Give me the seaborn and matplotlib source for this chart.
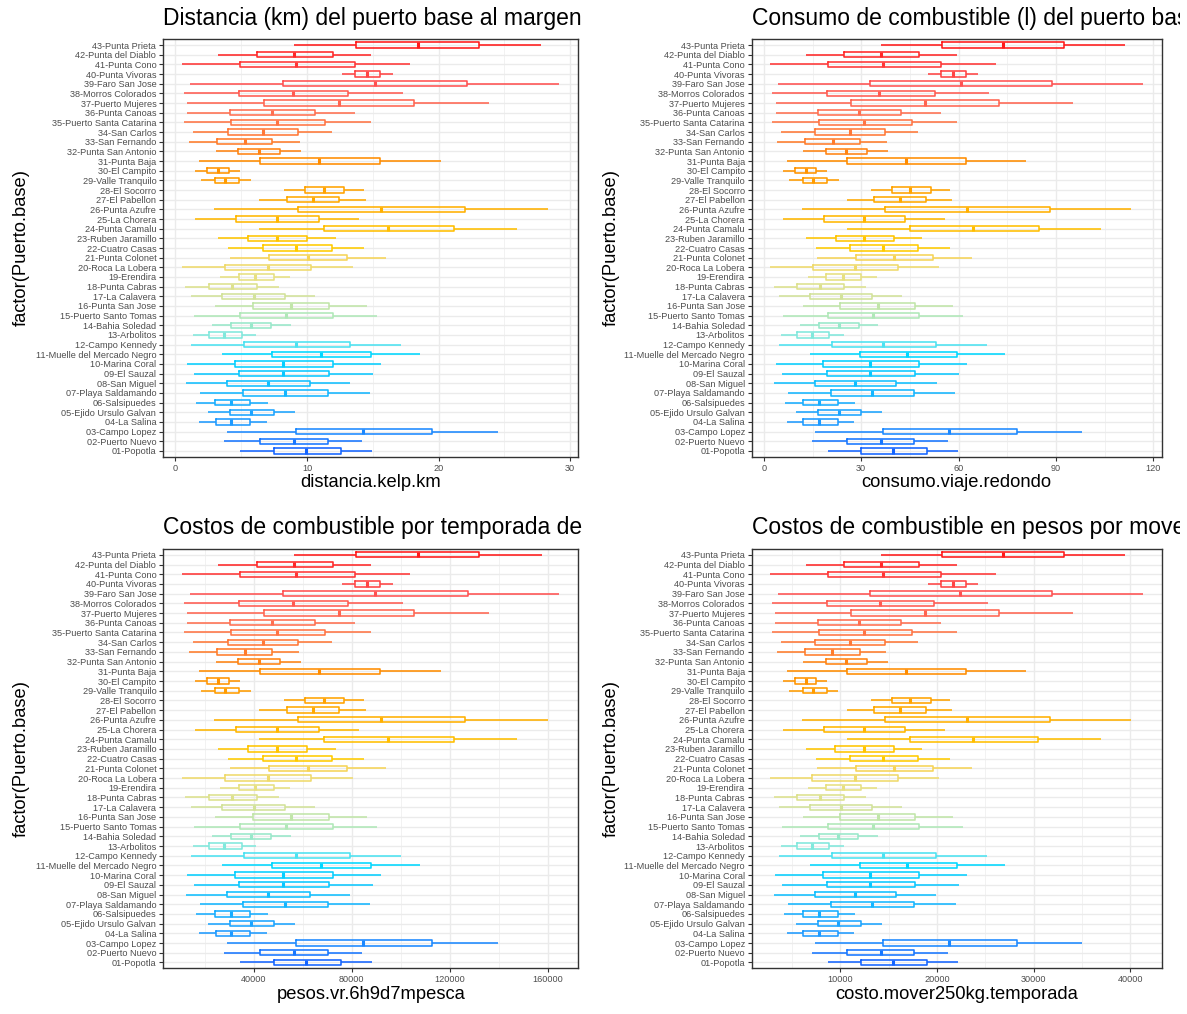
import numpy as np
import pandas as pd
import matplotlib
matplotlib.use("Agg")
import matplotlib.pyplot as plt
import seaborn as sns
from matplotlib.colors import LinearSegmentedColormap, to_hex
from matplotlib.transforms import Bbox, TransformedBbox

# categorias (01 abajo, 43 arriba)
puertos = [
    "01-Popotla", "02-Puerto Nuevo", "03-Campo Lopez", "04-La Salina",
    "05-Ejido Ursulo Galvan", "06-Salsipuedes", "07-Playa Saldamando",
    "08-San Miguel", "09-El Sauzal", "10-Marina Coral",
    "11-Muelle del Mercado Negro", "12-Campo Kennedy", "13-Arbolitos",
    "14-Bahia Soledad", "15-Puerto Santo Tomas", "16-Punta San Jose",
    "17-La Calavera", "18-Punta Cabras", "19-Erendira", "20-Roca La Lobera",
    "21-Punta Colonet", "22-Cuatro Casas", "23-Ruben Jaramillo",
    "24-Punta Camalu", "25-La Chorera", "26-Punta Azufre", "27-El Pabellon",
    "28-El Socorro", "29-Valle Tranquilo", "30-El Campito", "31-Punta Baja",
    "32-Punta San Antonio", "33-San Fernando", "34-San Carlos",
    "35-Puerto Santa Catarina", "36-Punta Canoas", "37-Puerto Mujeres",
    "38-Morros Colorados", "39-Faro San Jose", "40-Punta Vivoras",
    "41-Punta Cono", "42-Punta del Diablo", "43-Punta Prieta",
]

# distancia.kelp.km : min, q1, mediana, q3, max
km_min = [4.94, 3.72, 3.92, 1.77, 2.46, 1.59, 1.85, 0.78, 1.39, 0.89, 3.54, 1.19, 1.32, 2.76, 1.44,
          3.04, 1.19, 0.76, 3.42, 0.51, 4.13, 4.00, 3.24, 6.38, 1.47, 2.96, 6.38, 8.23, 1.97, 1.47,
          1.77, 3.06, 1.01, 1.32, 0.63, 0.89, 0.89, 0.63, 1.09, 12.66, 0.51, 3.24, 9.04]
km_q1 = [7.47, 6.41, 9.14, 3.06, 4.15, 2.99, 5.14, 3.95, 4.86, 4.53, 7.37, 5.22, 2.58, 4.25, 4.94,
         5.87, 3.54, 2.58, 4.81, 3.75, 7.09, 6.66, 5.52, 11.27, 4.63, 9.32, 8.46, 9.85, 2.99, 2.41,
         6.41, 4.76, 3.19, 3.97, 4.25, 4.18, 6.71, 4.86, 8.15, 13.62, 4.94, 6.20, 13.72]
km_med = [9.95, 8.99, 14.23, 4.25, 5.75, 4.25, 8.30, 7.04, 8.18, 8.18, 11.06, 9.19, 3.72, 5.75, 8.43,
          8.78, 5.95, 4.30, 6.08, 7.04, 10.05, 9.19, 7.72, 16.13, 7.72, 15.62, 10.46, 11.27, 3.80, 3.22,
          10.94, 6.35, 5.29, 6.63, 7.72, 7.32, 12.41, 8.91, 15.14, 14.56, 9.19, 8.99, 18.41]
km_q3 = [12.56, 11.57, 19.49, 5.70, 7.47, 5.70, 11.57, 10.20, 11.67, 11.97, 14.89, 13.24, 5.04, 7.29, 11.97,
         11.67, 8.35, 6.20, 7.47, 10.30, 13.04, 11.87, 10.00, 21.14, 10.89, 22.03, 12.46, 12.84, 4.84, 4.05,
         15.57, 7.97, 7.37, 9.32, 11.39, 10.58, 18.10, 13.14, 22.20, 15.57, 13.62, 11.97, 23.09]
km_max = [14.94, 14.15, 24.51, 6.94, 9.09, 7.04, 14.76, 13.29, 15.01, 15.62, 18.56, 17.16, 6.15, 8.78, 15.34,
          14.56, 10.63, 7.90, 8.68, 13.47, 16.00, 14.33, 12.20, 25.95, 13.95, 28.30, 14.46, 14.33, 5.75, 4.89,
          20.18, 9.54, 9.44, 11.90, 14.86, 13.67, 23.82, 17.29, 29.19, 16.51, 17.85, 14.86, 27.82]

# consumo.viaje.redondo (l)
lt_min = [19.8, 14.9, 15.7, 7.1, 9.8, 6.4, 7.4, 3.1, 5.6, 3.6, 14.2, 4.8, 5.3, 11.0, 5.8,
          12.2, 4.8, 3.0, 13.7, 2.0, 16.5, 16.0, 13.0, 25.5, 5.9, 11.8, 25.5, 32.9, 7.9, 5.9,
          7.1, 12.2, 4.0, 5.3, 2.5, 3.6, 3.6, 2.5, 4.4, 50.6, 2.0, 13.0, 36.2]
lt_q1 = [29.9, 25.6, 36.6, 12.2, 16.6, 12.0, 20.6, 15.8, 19.4, 18.1, 29.5, 20.9, 10.3, 17.0, 19.8,
         23.5, 14.2, 10.3, 19.2, 15.0, 28.4, 26.6, 22.1, 45.1, 18.5, 37.3, 33.8, 39.4, 12.0, 9.6,
         25.6, 19.0, 12.8, 15.9, 17.0, 16.7, 26.8, 19.4, 32.6, 54.5, 19.8, 24.8, 54.9]
lt_med = [39.8, 36.0, 56.9, 17.0, 23.0, 17.0, 33.2, 28.2, 32.7, 32.7, 44.2, 36.8, 14.9, 23.0, 33.7,
          35.1, 23.8, 17.2, 24.3, 28.2, 40.2, 36.8, 30.9, 64.5, 30.9, 62.5, 41.8, 45.1, 15.2, 12.9,
          43.8, 25.4, 21.2, 26.5, 30.9, 29.3, 49.6, 35.6, 60.6, 58.2, 36.8, 36.0, 73.6]
lt_q3 = [50.2, 46.3, 78.0, 22.8, 29.9, 22.8, 46.3, 40.8, 46.7, 47.9, 59.6, 53.0, 20.2, 29.2, 47.9,
         46.7, 33.4, 24.8, 29.9, 41.2, 52.2, 47.5, 40.0, 84.6, 43.6, 88.1, 49.8, 51.4, 19.4, 16.2,
         62.3, 31.9, 29.5, 37.3, 45.6, 42.3, 72.4, 52.6, 88.8, 62.3, 54.5, 47.9, 92.4]
lt_max = [59.8, 56.6, 98.0, 27.8, 36.4, 28.2, 59.0, 53.2, 60.0, 62.5, 74.2, 68.6, 24.6, 35.1, 61.4,
          58.2, 42.5, 31.6, 34.7, 53.9, 64.0, 57.3, 48.8, 103.8, 55.8, 113.2, 57.8, 57.3, 23.0, 19.6,
          80.7, 38.2, 37.8, 47.6, 59.4, 54.7, 95.3, 69.2, 116.8, 66.0, 71.4, 59.4, 111.3]

# pesos.vr.6h9d7mpesca
ps_min = [34600, 28100, 29100, 17600, 21300, 16700, 18100, 12300, 15600, 12900, 27100, 14500, 15200, 22900, 15900,
          24400, 14500, 12200, 26500, 10900, 30300, 29600, 25500, 42300, 16000, 24000, 42300, 52300, 18700, 16000,
          17600, 24500, 13500, 15200, 11500, 12900, 12900, 11500, 14000, 76000, 10900, 25500, 56600]
ps_q1 = [48200, 42500, 57100, 24500, 30400, 24200, 35700, 29300, 34200, 32400, 47600, 36100, 22000, 30900, 34600,
         39600, 27100, 22000, 33900, 28200, 46100, 43800, 37700, 68600, 33000, 58100, 53500, 60900, 24200, 21100,
         42500, 33700, 25200, 29400, 30900, 30500, 44100, 34200, 51800, 81200, 34600, 41400, 81700]
ps_med = [61500, 56300, 84400, 30900, 39000, 30900, 52600, 45900, 52000, 52000, 67400, 57400, 28100, 39000, 53300,
          55200, 40000, 31200, 40700, 45900, 62000, 57400, 49500, 94600, 49500, 91900, 64200, 68600, 28500, 25400,
          66800, 42200, 36500, 43700, 49500, 47400, 74700, 55900, 89300, 86200, 57400, 56300, 106800]
ps_q3 = [75500, 70200, 112600, 38700, 48200, 38700, 70200, 62800, 70700, 72300, 88000, 79100, 35200, 47200, 72300,
         70700, 52900, 41400, 48200, 63400, 78100, 71800, 61800, 121500, 66500, 126300, 74900, 77000, 34100, 29800,
         91600, 50900, 47600, 58100, 69200, 64900, 105200, 78600, 127200, 91600, 81200, 72300, 131900]
ps_max = [88200, 84000, 139600, 45300, 56900, 45900, 87300, 79400, 88600, 91900, 107600, 100100, 41100, 55200, 90400,
          86200, 65100, 50500, 54700, 80400, 93900, 85000, 73500, 147300, 82900, 159900, 85700, 85000, 39000, 34400,
          116300, 59300, 58700, 71900, 87800, 81400, 135900, 100800, 164600, 96700, 103800, 87800, 157300]

# costo.mover250kg.temporada
cs_min = [8720, 7080, 7350, 4450, 5380, 4210, 4560, 3120, 3940, 3270, 6840, 3680, 3850, 5790, 4010,
          6160, 3680, 3100, 6670, 2760, 7630, 7450, 6430, 10660, 4050, 6060, 10660, 13140, 4720, 4050,
          4450, 6190, 3430, 3850, 2920, 3270, 3270, 2920, 3540, 19100, 2760, 6430, 14230]
cs_q1 = [12120, 10700, 14370, 6190, 7660, 6100, 8990, 7390, 8610, 8170, 11990, 9100, 5540, 7790, 8720,
         9970, 6840, 5540, 8540, 7120, 11610, 11030, 9500, 17230, 8300, 14610, 13450, 15320, 6100, 5320,
         10700, 8480, 6370, 7410, 7790, 7700, 11100, 8610, 13040, 20390, 8720, 10410, 20530]
cs_med = [15460, 14170, 21210, 7790, 9810, 7790, 13240, 11540, 13080, 13080, 16950, 14440, 7080, 9810, 13410,
          13880, 10080, 7860, 10250, 11540, 15590, 14440, 12460, 23770, 12460, 23080, 16140, 17230, 7190, 6410,
          16790, 10620, 9190, 10990, 12460, 11920, 18770, 14060, 22440, 21660, 14440, 14170, 26840]
cs_q3 = [18970, 17640, 28290, 9740, 12120, 9740, 17640, 15790, 17770, 18170, 22100, 19880, 8850, 11880, 18170,
         17770, 13310, 10410, 12120, 15930, 19610, 18040, 15520, 30510, 16720, 31700, 18830, 19340, 8580, 7520,
         23020, 12790, 11990, 14610, 17390, 16300, 26420, 19750, 31930, 23020, 20390, 18170, 33130]
cs_max = [22170, 21110, 35040, 11410, 14300, 11540, 21930, 19950, 22260, 23080, 27040, 25150, 10350, 13880, 22710,
          21660, 16370, 12700, 13750, 20190, 23590, 21350, 18480, 36980, 20840, 40140, 21520, 21350, 9810, 8650,
          29220, 14910, 14770, 18080, 22060, 20460, 34110, 25330, 41340, 24280, 26080, 22060, 39490]

titulos = [
    "Distancia (km) del puerto base al margen del kelp",
    "Consumo de combustible (l) del puerto base al margen del kelp",
    "Costos de combustible por temporada de pesca",
    "Costos de combustible en pesos por mover 250kg por temporada",
]
variables = ["distancia.kelp.km", "consumo.viaje.redondo",
             "pesos.vr.6h9d7mpesca", "costo.mover250kg.temporada"]
ticks_mayores = [[0, 10, 20, 30], [0, 30, 60, 90, 120],
                 [40000, 80000, 120000, 160000], [10000, 20000, 30000, 40000]]
ticks_menores = [[5, 15, 25], [15, 45, 75, 105],
                 [20000, 60000, 100000, 140000], [5000, 15000, 25000, 35000]]
resumenes = [
    (km_min, km_q1, km_med, km_q3, km_max),
    (lt_min, lt_q1, lt_med, lt_q3, lt_max),
    (ps_min, ps_q1, ps_med, ps_q3, ps_max),
    (cs_min, cs_q1, cs_med, cs_q3, cs_max),
]


def tabla_larga(stats, nombre):
    # cinco valores por puerto -> percentiles 0/25/50/75/100 exactos
    filas = []
    for i, p in enumerate(puertos):
        for serie in stats:
            filas.append((p, serie[i]))
    return pd.DataFrame(filas, columns=["Puerto.base", nombre])


# paleta azul -> cian -> amarillo -> naranja -> rojo
anclas = [(0, "#1464ff"), (3, "#1e9bff"), (7, "#10c0ff"), (10, "#00d8ff"), (11, "#4ae2f2"),
          (12, "#80e8dc"), (14, "#b0e8b8"), (16, "#d2e29a"), (18, "#e8e080"), (20, "#f6d456"),
          (21, "#ffcc00"), (25, "#ffb000"), (28, "#ff9c00"), (30, "#ff8c00"), (32, "#ff7c28"),
          (35, "#ff7050"), (38, "#ff5252"), (42, "#ff1a1a")]
cmap = LinearSegmentedColormap.from_list("puertos", [(i / 42, c) for i, c in anclas])
colores = {p: to_hex(cmap(i / 42)) for i, p in enumerate(puertos)}

sns.set_theme(style="white")
plt.rcParams["font.family"] = ["Liberation Sans", "DejaVu Sans"]

W, H = 1187, 1014
fig = plt.figure(figsize=(W / 100, H / 100), dpi=100)

cajas = [(163.3, 39.3, 578.3, 456.7), (751.7, 39.3, 1161.7, 456.7),
         (163.3, 549.0, 578.3, 968.3), (751.7, 549.0, 1161.7, 968.3)]
recortes = [585, 1180, 585, 1180]

for k in range(4):
    x0, y0, x1, y1 = cajas[k]
    ax = fig.add_axes([x0 / W, 1 - y1 / H, (x1 - x0) / W, (y1 - y0) / H])
    df = tabla_larga(resumenes[k], variables[k])

    sns.boxplot(data=df, x=variables[k], y="Puerto.base", order=puertos[::-1],
                hue="Puerto.base", palette=colores, fill=False, legend=False,
                whis=(0, 100), width=0.55, linewidth=1.15, showcaps=False,
                medianprops={"linewidth": 2.2}, ax=ax)

    lo = min(resumenes[k][0])
    hi = max(resumenes[k][4])
    pad = 0.05 * (hi - lo)
    ax.set_xlim(lo - pad, hi + pad)
    ax.set_ylim(len(puertos) - 1 + 0.6, -0.6)

    ax.set_xticks(ticks_mayores[k])
    ax.set_xticklabels([str(t) for t in ticks_mayores[k]])
    ax.set_xticks(ticks_menores[k], minor=True)
    ax.set_axisbelow(True)
    ax.grid(True, which="major", color="#ebebeb", linewidth=1.0)
    ax.grid(True, which="minor", axis="x", color="#f2f2f2", linewidth=0.7)

    ax.tick_params(axis="both", which="major", labelsize=6.6, labelcolor="#4d4d4d",
                   color="#333333", length=3, width=0.8, pad=2, left=True, bottom=True)
    ax.tick_params(which="minor", length=0)
    for s in ax.spines.values():
        s.set_color("#333333")
        s.set_linewidth(1.0)

    ax.set_xlabel(variables[k], fontsize=13.2, color="black", labelpad=1)
    ax.set_ylabel("factor(Puerto.base)", fontsize=13.2, color="black")
    ax.yaxis.set_label_coords(-0.321, 0.5)

    # titulo alineado a la izquierda, recortado por su celda como en el original
    t = ax.set_title(titulos[k], loc="left", fontsize=16.5, pad=10.5, color="black")
    cx0 = 0 if k % 2 == 0 else 593.5
    clip = TransformedBbox(Bbox([[cx0 / W, 0], [recortes[k] / W, 1]]), fig.transFigure)
    t.set_clip_box(clip)
    t.set_clip_on(True)

fig.savefig("out.png", dpi=100, facecolor="white")
